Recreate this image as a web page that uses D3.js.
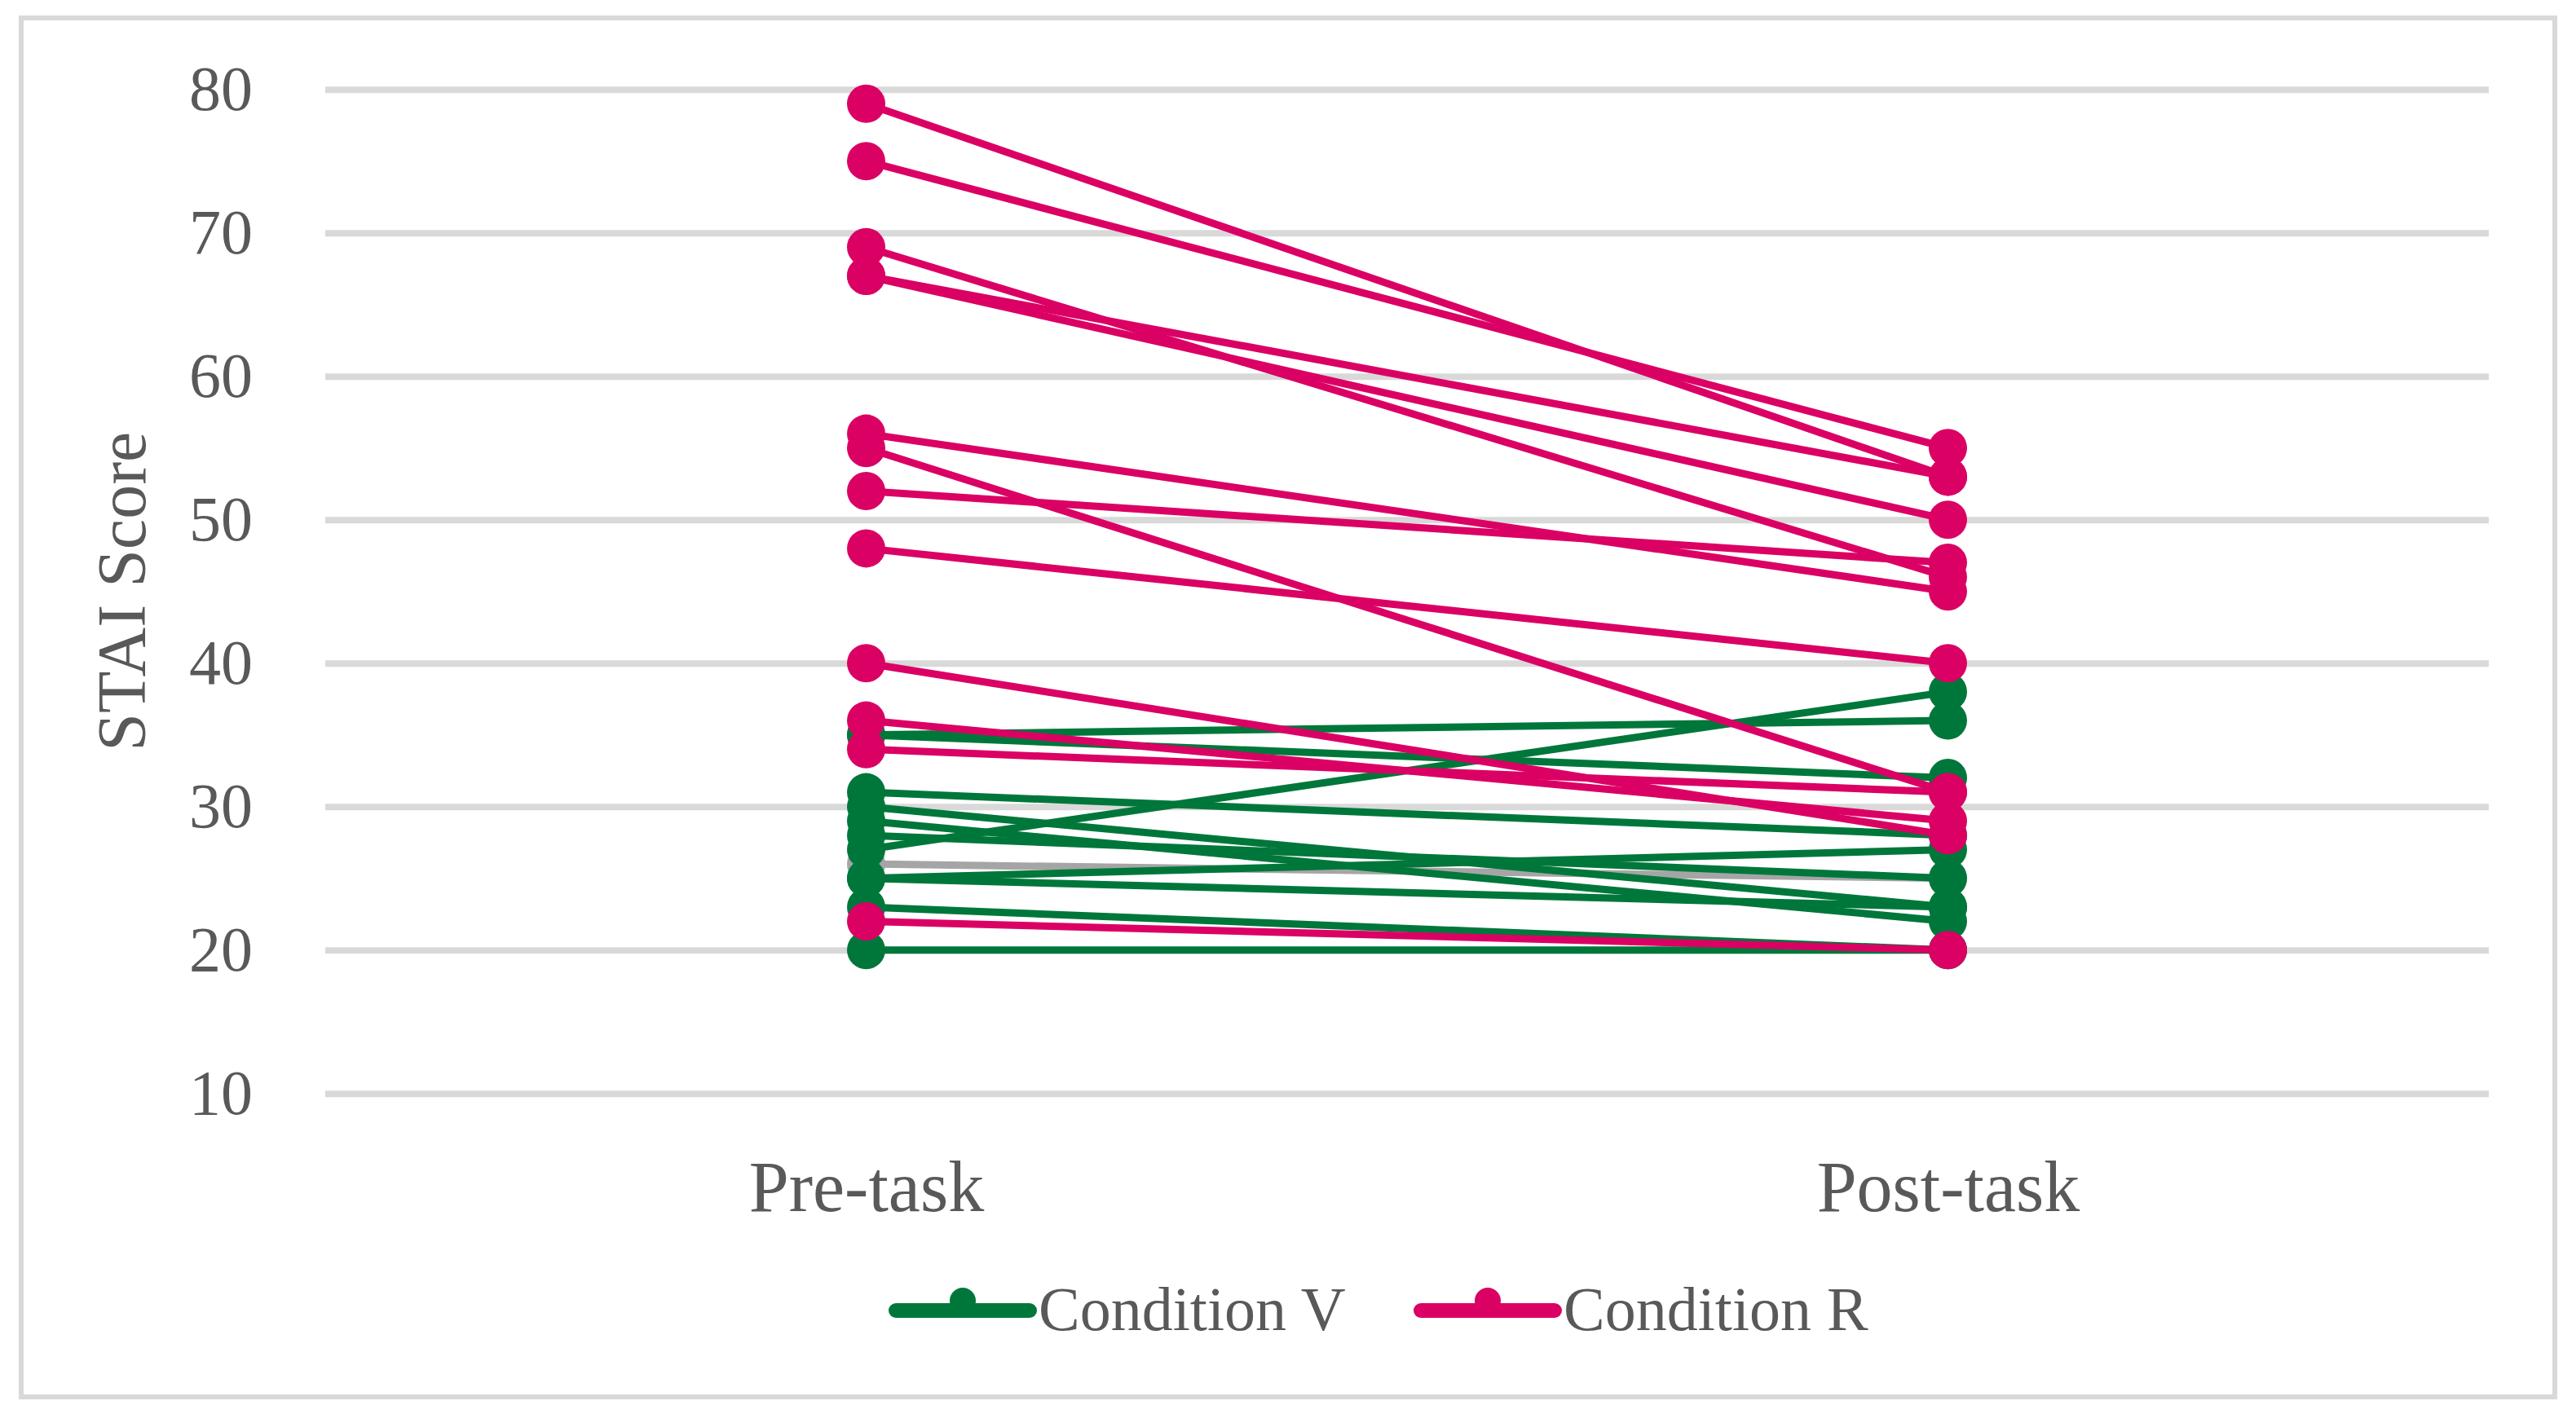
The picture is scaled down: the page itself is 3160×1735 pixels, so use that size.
<!DOCTYPE html>
<html>
<head>
<meta charset="utf-8">
<script src="https://cdn.jsdelivr.net/npm/d3@7"></script>
<style>
  body { margin: 0; background: #fff; }
  svg text { font-family: "Palatino Linotype", "Book Antiqua", Palatino, "Liberation Serif", serif; fill: #595959; }
</style>
</head>
<body>
<div id="vis"></div>
<script>
// categories on the x axis
const categories = ["Pre-task", "Post-task"];
const yTicks = [10, 20, 30, 40, 50, 60, 70, 80];

// Condition V (green) - one value pair per participant
const vPre  = [35, 35, 31, 30, 29, 28, 27, 25, 25, 23, 20];
const vPost = [36, 32, 28, 23, 22, 25, 38, 27, 23, 20, 20];

// Condition R (pink)
const rPre  = [79, 75, 69, 67, 67, 56, 55, 52, 48, 40, 36, 34, 22];
const rPost = [53, 55, 46, 53, 50, 45, 31, 47, 40, 28, 29, 31, 20];

// extra grey series (not in the legend)
const gPre  = [26];
const gPost = [25];

const legendNames = ["Condition V", "Condition R"];

const W = 3160, H = 1735;
const margin = { top: 109.7, right: 107, bottom: 393.3, left: 399 };

const svg = d3.select("#vis")
    .append("svg")
    .attr("width", W)
    .attr("height", H)
    .attr("viewBox", [0, 0, W, H]);

// chart border
svg.append("rect")
    .attr("x", 26).attr("y", 22)
    .attr("width", 3108).attr("height", 1692)
    .attr("fill", "none")
    .attr("stroke", "#d9d9d9")
    .attr("stroke-width", 6);

const x = d3.scalePoint()
    .domain(categories)
    .range([margin.left, W - margin.right])
    .padding(0.5);

const y = d3.scaleLinear()
    .domain([10, 80])
    .range([H - margin.bottom, margin.top]);

// y axis with gridlines
svg.append("g")
    .attr("transform", `translate(${margin.left},0)`)
    .call(d3.axisLeft(y).tickValues(yTicks).tickSize(0).tickPadding(89))
    .call(g => g.select(".domain").remove())
    .call(g => g.selectAll(".tick text")
        .attr("font-size", 78)
        .attr("fill", "#595959"))
    .call(g => g.selectAll(".tick line").clone()
        .attr("x2", W - margin.right - margin.left)
        .attr("stroke", "#d9d9d9")
        .attr("stroke-width", 8));

// x axis labels
svg.append("g")
    .attr("transform", `translate(0,${H - margin.bottom})`)
    .call(d3.axisBottom(x).tickSize(0).tickPadding(82))
    .call(g => g.select(".domain").remove())
    .call(g => g.selectAll(".tick text")
        .attr("font-size", 88)
        .attr("fill", "#595959"));

// y axis title
svg.append("text")
    .attr("transform", `translate(178,${(margin.top + H - margin.bottom) / 2}) rotate(-90)`)
    .attr("text-anchor", "middle")
    .attr("font-size", 84)
    .text("STAI Score");

function zipPairs(pre, post) {
    return pre.map((v, i) => [v, post[i]]);
}

const series = [
    { color: "#a5a5a5", pairs: zipPairs(gPre, gPost) },
    { color: "#00773a", pairs: zipPairs(vPre, vPost) },
    { color: "#db0064", pairs: zipPairs(rPre, rPost) }
];

const line = d3.line()
    .x((d, i) => x(categories[i]))
    .y(d => y(d));

series.forEach(s => {
    const grp = svg.append("g");
    s.pairs.forEach(p => {
        const pg = grp.append("g");
        pg.append("path")
            .attr("d", line(p))
            .attr("fill", "none")
            .attr("stroke", s.color)
            .attr("stroke-width", 9);
        pg.selectAll("circle")
            .data(p)
            .join("circle")
            .attr("cx", (d, i) => x(categories[i]))
            .attr("cy", d => y(d))
            .attr("r", 23.5)
            .attr("fill", s.color);
    });
});

// legend
const legendColors = ["#00773a", "#db0064"];
const legendX = [1099, 1743];
const legend = svg.append("g")
    .attr("transform", "translate(0,1608)");

const item = legend.selectAll("g")
    .data(legendNames)
    .join("g")
    .attr("transform", (d, i) => `translate(${legendX[i]},0)`);

item.append("line")
    .attr("x1", 0).attr("x2", 164)
    .attr("stroke", (d, i) => legendColors[i])
    .attr("stroke-width", 18)
    .attr("stroke-linecap", "round");

item.append("circle")
    .attr("cx", 82).attr("cy", -12)
    .attr("r", 16)
    .attr("fill", (d, i) => legendColors[i]);

item.append("text")
    .attr("x", 175)
    .attr("y", 24)
    .attr("font-size", 76)
    .text(d => d);
</script>
</body>
</html>
